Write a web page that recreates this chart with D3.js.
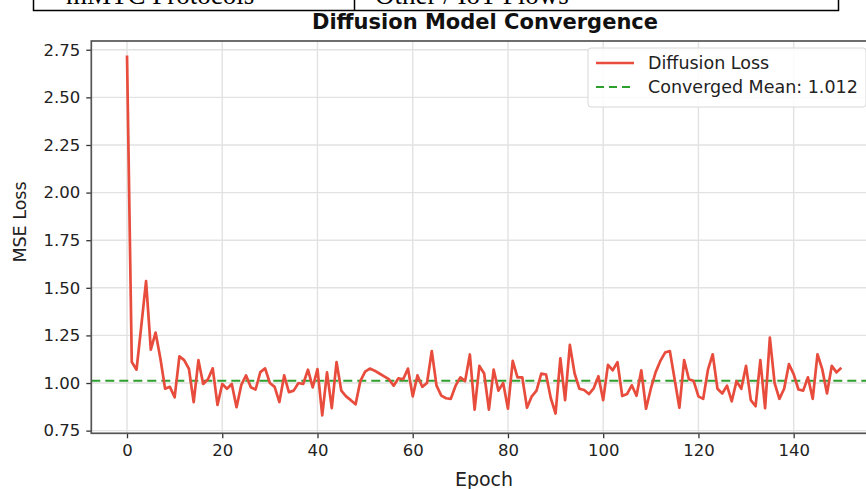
<!DOCTYPE html>
<html><head><meta charset="utf-8">
<script src="https://cdn.jsdelivr.net/npm/d3@7/dist/d3.min.js"></script>
<style>
html,body{margin:0;padding:0;background:#fff;overflow:hidden;}
svg{display:block;}
</style></head>
<body>
<script>
// ---- data ----
const epochs = d3.range(0, 151);
const loss = [
2.72,1.11,1.07,1.30,1.535,1.175,1.265,1.13,0.97,0.98,
0.925,1.14,1.12,1.075,0.90,1.12,0.995,1.02,1.077,0.885,
0.995,0.97,0.995,0.873,0.99,1.04,0.978,0.966,1.057,1.077,
1.0,0.98,0.90,1.04,0.952,0.96,1.0,0.995,1.07,0.977,
1.073,0.83,1.056,0.868,1.11,0.96,0.93,0.91,0.888,1.01,
1.06,1.076,1.065,1.05,1.035,1.02,0.986,1.025,1.02,1.076,
0.93,1.04,0.98,1.0,1.168,0.986,0.934,0.92,0.917,0.986,
1.03,1.01,1.15,0.86,1.09,1.05,0.86,1.07,0.96,1.0,
0.865,1.116,1.03,1.03,0.87,0.93,0.96,1.05,1.045,0.92,
0.84,1.13,0.91,1.2,1.05,0.97,0.963,0.942,0.972,1.036,
0.91,1.095,1.067,1.11,0.932,0.942,0.988,0.933,1.067,0.865,
0.97,1.056,1.116,1.16,1.168,1.02,0.87,1.12,1.02,1.01,
0.93,0.917,1.07,1.151,0.97,0.945,0.986,0.904,1.01,0.97,
1.09,0.91,0.878,1.12,0.868,1.238,1.0,0.917,0.97,1.099,
1.047,0.966,0.96,1.03,0.917,1.151,1.073,0.945,1.09,1.056,
1.08];
const convergedMean = 1.012;
const xTicks = [0,20,40,60,80,100,120,140];
const yTicks = [0.75,1.00,1.25,1.50,1.75,2.00,2.25,2.50,2.75];
const title = "Diffusion Model Convergence";
const xLabel = "Epoch";
const yLabel = "MSE Loss";
const seriesNames = ["Diffusion Loss", "Converged Mean: " + convergedMean.toFixed(3)];
const tableCells = ["mMTC Protocols", "Other / IoT Flows"];

// ---- layout ----
const W = 866, H = 489;
const plot = {left: 91.3, right: 877, top: 41, bottom: 433.3};
const svg = d3.select("body").append("svg").attr("width", W).attr("height", H);

// table fragment at top (cut off by the page edge, as in the reference)
const tbl = svg.append("g");
tbl.append("rect").attr("x", 33.5).attr("y", -30).attr("width", 805).attr("height", 40.5)
  .attr("fill", "none").attr("stroke", "#000").attr("stroke-width", 1.5);
tbl.append("line").attr("x1", 354.5).attr("x2", 354.5).attr("y1", -30).attr("y2", 10.5)
  .attr("stroke", "#000").attr("stroke-width", 1.5);
tbl.selectAll("text.cell").data(tableCells).join("text")
  .attr("x", (d, i) => i === 0 ? 66 : 375).attr("y", 3.5)
  .attr("font-family", "Liberation Serif, serif").attr("font-size", 27).attr("fill", "#000")
  .text(d => d);

const x = d3.scaleLinear().domain([-7.5, 157.5]).range([plot.left, plot.right]);
const y = d3.scaleLinear().domain([0.736, 2.796]).range([plot.bottom, plot.top]);

// grid
const grid = svg.append("g");
grid.selectAll("line.gx").data(xTicks).join("line")
  .attr("x1", d => x(d)).attr("x2", d => x(d)).attr("y1", plot.top).attr("y2", plot.bottom)
  .attr("stroke", "#e2e2e2").attr("stroke-width", 1.4);
grid.selectAll("line.gy").data(yTicks).join("line")
  .attr("x1", plot.left).attr("x2", plot.right).attr("y1", d => y(d)).attr("y2", d => y(d))
  .attr("stroke", "#e2e2e2").attr("stroke-width", 1.4);

// mean line
svg.append("line").attr("x1", plot.left).attr("x2", plot.right)
  .attr("y1", y(convergedMean)).attr("y2", y(convergedMean))
  .attr("stroke", "#2ca02c").attr("stroke-width", 2.2).attr("stroke-dasharray", "9,5");

// loss line
const line = d3.line().x((d, i) => x(epochs[i])).y(d => y(d));
svg.append("path").datum(loss).attr("d", line)
  .attr("fill", "none").attr("stroke", "#e74c3c").attr("stroke-width", 2.7)
  .attr("stroke-linejoin", "round");

// axes
const font = "DejaVu Sans, sans-serif";
const xAxis = d3.axisBottom(x).tickValues(xTicks).tickSize(5).tickPadding(6).tickFormat(d3.format("d"));
const yAxis = d3.axisLeft(y).tickValues(yTicks).tickSize(5).tickPadding(6).tickFormat(d3.format(".2f"));
const gx = svg.append("g").attr("transform", `translate(0,${plot.bottom})`).call(xAxis);
const gy = svg.append("g").attr("transform", `translate(${plot.left},0)`).call(yAxis);
[gx, gy].forEach(g => {
  g.select(".domain").remove();
  g.selectAll(".tick line").attr("stroke", "#333").attr("stroke-width", 1.3);
  g.selectAll(".tick text").attr("font-family", font).attr("font-size", 16.5).attr("fill", "#222");
});

// frame
svg.append("rect").attr("x", plot.left).attr("y", plot.top)
  .attr("width", plot.right - plot.left).attr("height", plot.bottom - plot.top)
  .attr("fill", "none").attr("stroke", "#555").attr("stroke-width", 1.7);

// labels
svg.append("text").attr("x", 485).attr("y", 28.5).attr("text-anchor", "middle")
  .attr("font-family", font).attr("font-weight", "bold").attr("font-size", 21).attr("fill", "#111").text(title);
svg.append("text").attr("x", 484).attr("y", 486).attr("text-anchor", "middle")
  .attr("font-family", font).attr("font-size", 19).attr("fill", "#222").text(xLabel);
svg.append("text").attr("transform", `translate(26,222) rotate(-90)`).attr("text-anchor", "middle")
  .attr("font-family", font).attr("font-size", 17.5).attr("fill", "#222").text(yLabel);

// legend
const lg = svg.append("g");
lg.append("rect").attr("x", 588).attr("y", 48).attr("width", 278).attr("height", 59).attr("rx", 3)
  .attr("fill", "#fff").attr("fill-opacity", 0.85).attr("stroke", "#d8d8d8").attr("stroke-width", 1);
lg.append("line").attr("x1", 596).attr("x2", 634).attr("y1", 63).attr("y2", 63)
  .attr("stroke", "#e74c3c").attr("stroke-width", 2.7);
lg.append("line").attr("x1", 596).attr("x2", 634).attr("y1", 87).attr("y2", 87)
  .attr("stroke", "#2ca02c").attr("stroke-width", 2.2).attr("stroke-dasharray", "8,5");
lg.selectAll("text").data(seriesNames).join("text")
  .attr("x", 648).attr("y", (d, i) => 69 + i * 24)
  .attr("font-family", font).attr("font-size", 17.5).attr("fill", "#222").text(d => d);
</script>
</body></html>
